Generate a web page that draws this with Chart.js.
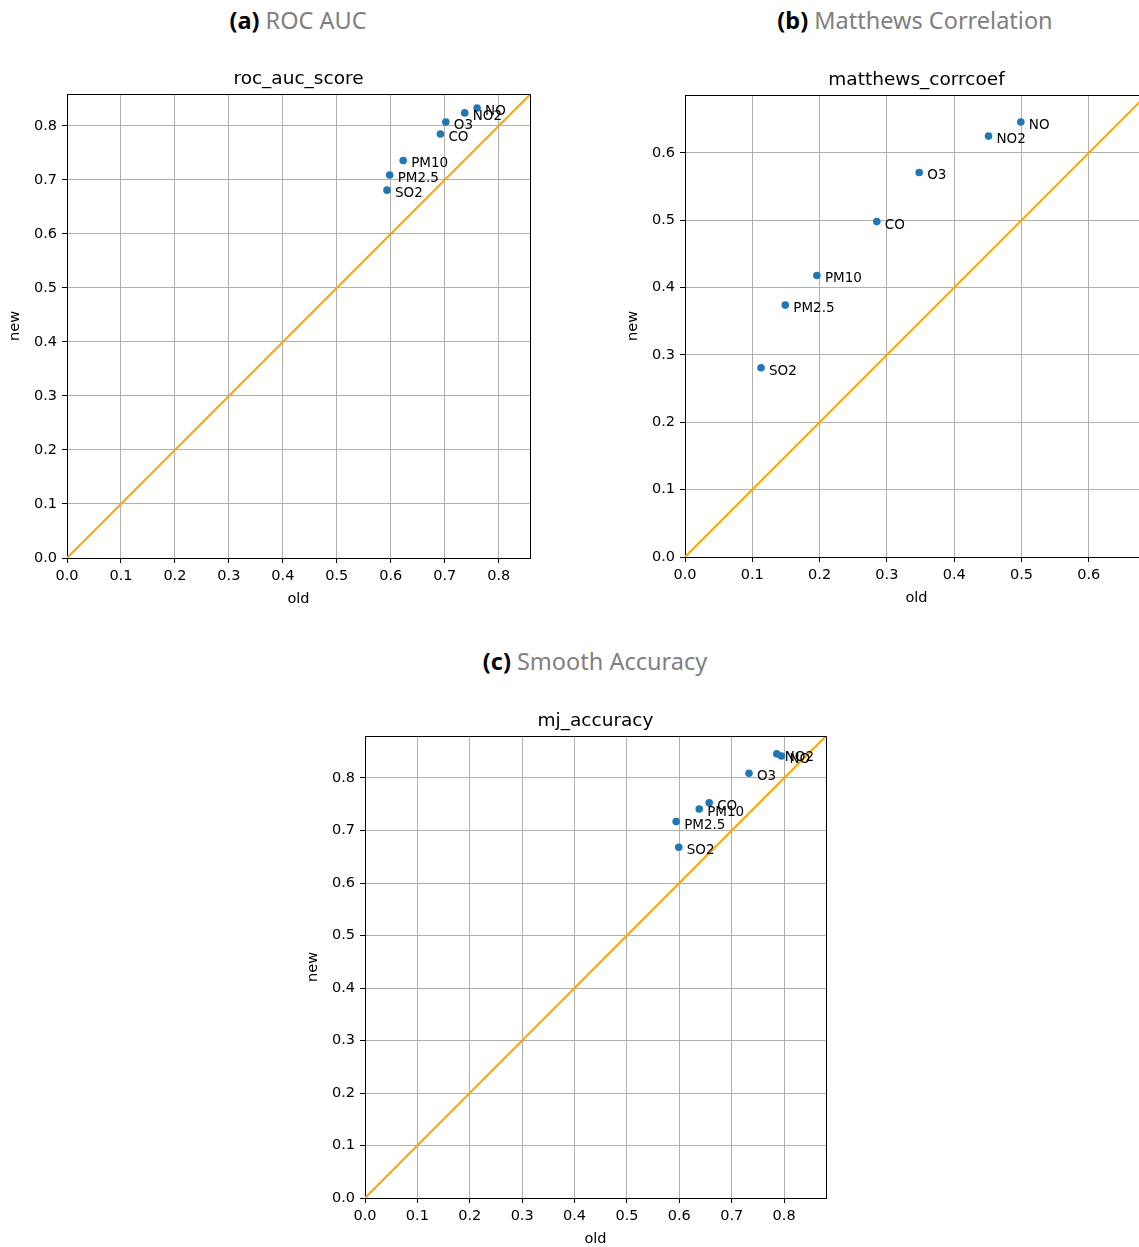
<!DOCTYPE html>
<html>
<head>
<meta charset="utf-8">
<script src="https://cdn.jsdelivr.net/npm/chart.js@4/dist/chart.umd.min.js"></script>
<style>
  body { margin: 0; width: 1139px; height: 1247px; overflow: hidden; background: #fff; position: relative; }
  .head { position: absolute; width: 400px; text-align: center; font-family: "Noto Sans", sans-serif; font-size: 23.5px; line-height: 24px; color: #7f7f7f; white-space: nowrap; }
  .head b { color: #000; }
  canvas { position: absolute; }
</style>
</head>
<body>
<div class="head" style="left:98px; top:8px;"><b>(a)</b> ROC AUC</div>
<div class="head" style="left:715px; top:8px;"><b>(b)</b> Matthews Correlation</div>
<div class="head" style="left:395px; top:649px;"><b>(c)</b> Smooth Accuracy</div>

<canvas id="chartA" width="545" height="560" style="left:0px; top:60px;"></canvas>
<canvas id="chartB" width="545" height="558" style="left:618px; top:61px;"></canvas>
<canvas id="chartC" width="543" height="558" style="left:298px; top:702px;"></canvas>

<script>
// pollutant labels, same order in every panel
const pollutants = ['NO', 'NO2', 'O3', 'CO', 'PM10', 'PM2.5', 'SO2'];

// (a) roc_auc_score
const rocOld = [0.760, 0.737, 0.702, 0.692, 0.623, 0.598, 0.593];
const rocNew = [0.833, 0.824, 0.807, 0.785, 0.736, 0.709, 0.681];

// (b) matthews_corrcoef
const mccOld = [0.499, 0.451, 0.348, 0.285, 0.196, 0.149, 0.113];
const mccNew = [0.646, 0.625, 0.571, 0.498, 0.418, 0.374, 0.281];

// (c) mj_accuracy
const accOld = [0.795, 0.786, 0.733, 0.657, 0.638, 0.594, 0.599];
const accNew = [0.842, 0.846, 0.809, 0.753, 0.741, 0.717, 0.668];

// y = x reference line
const diagonal = [0, 1];

const FONT = 'DejaVu Sans';

// axes title centred over the plot, top/right spines, point annotations
const boxAndLabels = {
  id: 'boxAndLabels',
  afterDatasetsDraw(chart, args, opts) {
    const ctx = chart.ctx;
    const a = chart.chartArea;
    ctx.save();
    ctx.strokeStyle = '#000';
    ctx.lineWidth = 1;
    ctx.beginPath();
    ctx.moveTo(Math.round(a.left), Math.round(a.top) + 0.5);
    ctx.lineTo(Math.round(a.right) + 0.5, Math.round(a.top) + 0.5);
    ctx.lineTo(Math.round(a.right) + 0.5, Math.round(a.bottom));
    ctx.stroke();

    ctx.fillStyle = '#000';
    ctx.textBaseline = 'middle';
    ctx.textAlign = 'center';
    ctx.font = '18.5px "' + FONT + '"';
    ctx.fillText(opts.text, (a.left + a.right) / 2, a.top - 15);

    let meta = chart.getDatasetMeta(1);
    ctx.font = '13.5px "' + FONT + '"';
    ctx.textAlign = 'left';
    meta.data.forEach(function(pt, i) {
      ctx.fillText(pollutants[i], pt.x + 8, pt.y + 3.5);
    });
    ctx.restore();
  }
};

function axisOptions(max, isX) {
  return {
    type: 'linear',
    min: 0,
    max: max,
    border: { color: '#000', width: 1 },
    grid: { color: '#b0b0b0', lineWidth: 1, tickLength: 5, tickColor: '#000', tickWidth: 1 },
    ticks: {
      stepSize: 0.1,
      includeBounds: false,
      padding: isX ? 5 : 5,
      color: '#000',
      font: { family: FONT, size: 14.5 },
      callback: function(v) { return v.toFixed(1); }
    },
    title: {
      display: true,
      text: isX ? 'old' : 'new',
      color: '#000',
      font: { family: FONT, size: 14.5 },
      padding: isX ? { top: 4, bottom: 12 } : { top: 7, bottom: 4 }
    },
    afterFit: function(scale) {
      if (isX) scale.height = 62;
      else scale.width = 67;
    }
  };
}

function makeChart(id, title, oldVals, newVals, xMax, yMax) {
  let ctx = document.getElementById(id).getContext('2d');
  let points = oldVals.map(function(v, i) { return { x: v, y: newVals[i] }; });
  let line = diagonal.map(function(v) { return { x: v, y: v }; });

  return new Chart(ctx, {
    type: 'scatter',
    data: {
      datasets: [
        {
          type: 'line',
          data: line,
          borderColor: '#ffa500',
          borderWidth: 2,
          pointRadius: 0,
          fill: false
        },
        {
          data: points,
          backgroundColor: '#1f77b4',
          borderWidth: 0,
          pointRadius: 3.8
        }
      ]
    },
    options: {
      responsive: false,
      animation: false,
      layout: { padding: { left: 0, top: 34, right: 15, bottom: 0 } },
      plugins: {
        legend: { display: false },
        tooltip: { enabled: false },
        title: { display: false },
        boxAndLabels: { text: title }
      },
      scales: {
        x: axisOptions(xMax, true),
        y: axisOptions(yMax, false)
      }
    },
    plugins: [boxAndLabels]
  });
}

makeChart('chartA', 'roc_auc_score', rocOld, rocNew, 0.858, 0.859);
makeChart('chartB', 'matthews_corrcoef', mccOld, mccNew, 0.688, 0.686);
makeChart('chartC', 'mj_accuracy', accOld, accNew, 0.88, 0.88);
</script>
</body>
</html>
